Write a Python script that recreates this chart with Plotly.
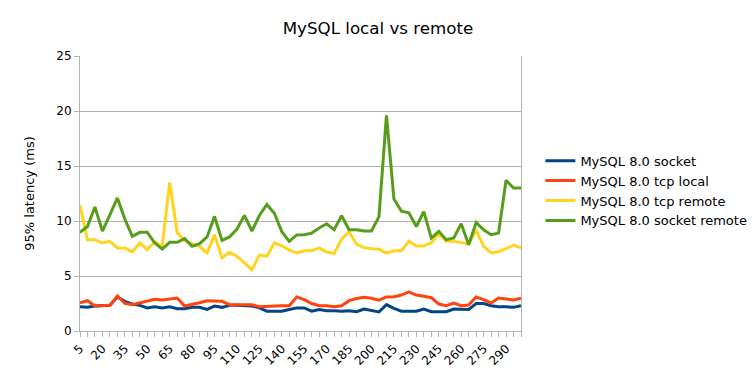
import plotly.graph_objects as go

categories = [5, 10, 15, 20, 25, 30, 35, 40, 45, 50, 55, 60, 65, 70, 75, 80, 85, 90, 95, 100,
              105, 110, 115, 120, 125, 130, 135, 140, 145, 150, 155, 160, 165, 170, 175, 180, 185, 190, 195, 200,
              205, 210, 215, 220, 225, 230, 235, 240, 245, 250, 255, 260, 265, 270, 275, 280, 285, 290, 295, 300]

socket = [2.21, 2.15, 2.27, 2.27, 2.33, 3.1, 2.7, 2.45, 2.33, 2.1, 2.2, 2.1, 2.2, 2.03, 2.03, 2.15, 2.15, 1.97, 2.27, 2.15,
          2.33, 2.33, 2.27, 2.27, 2.1, 1.8, 1.8, 1.8, 1.95, 2.1, 2.1, 1.8, 1.95, 1.85, 1.85, 1.8, 1.85, 1.75, 2.0, 1.85,
          1.73, 2.4, 2.05, 1.8, 1.8, 1.8, 2.0, 1.75, 1.75, 1.75, 2.0, 1.95, 1.95, 2.5, 2.5, 2.3, 2.2, 2.2, 2.15, 2.3]

tcp_local = [2.57, 2.75, 2.27, 2.27, 2.33, 3.18, 2.51, 2.39, 2.57, 2.75, 2.88, 2.82, 2.94, 3.0, 2.27, 2.39, 2.57, 2.75, 2.75, 2.7,
             2.39, 2.39, 2.45, 2.39, 2.2, 2.25, 2.3, 2.3, 2.3, 3.1, 2.85, 2.5, 2.3, 2.3, 2.2, 2.3, 2.76, 2.95, 3.06, 2.97,
             2.8, 3.1, 3.12, 3.27, 3.55, 3.27, 3.15, 3.03, 2.45, 2.3, 2.54, 2.3, 2.36, 3.09, 2.85, 2.55, 3.0, 2.9, 2.82, 2.97]

tcp_remote = [11.45, 8.3, 8.3, 8.0, 8.15, 7.55, 7.55, 7.2, 8.0, 7.4, 8.1, 7.7, 13.5, 8.95, 8.2, 7.95, 7.7, 7.1, 8.75, 6.65,
              7.15, 6.8, 6.2, 5.57, 6.9, 6.8, 8.0, 7.75, 7.35, 7.1, 7.3, 7.3, 7.55, 7.18, 7.05, 8.33, 9.02, 7.87, 7.58, 7.47,
              7.45, 7.09, 7.3, 7.3, 8.15, 7.72, 7.72, 8.03, 8.8, 8.17, 8.17, 8.03, 7.9, 9.17, 7.7, 7.1, 7.2, 7.48, 7.8, 7.55]

socket_remote = [8.96, 9.5, 11.27, 9.08, 10.55, 12.1, 10.18, 8.6, 8.97, 8.97, 8.0, 7.45, 8.06, 8.06, 8.4, 7.7, 7.94, 8.55, 10.42, 8.24,
                 8.55, 9.27, 10.5, 9.09, 10.5, 11.5, 10.7, 9.03, 8.15, 8.73, 8.75, 8.9, 9.36, 9.75, 9.2, 10.48, 9.2, 9.2, 9.1, 9.1,
                 10.4, 19.6, 12.0, 10.9, 10.75, 9.5, 10.85, 8.45, 9.06, 8.3, 8.45, 9.75, 7.85, 9.87, 9.2, 8.75, 8.9, 13.7, 13.0, 13.0]

tick_labels = [str(c) if i % 3 == 0 else "" for i, c in enumerate(categories)]
y_ticks = [0, 5, 10, 15, 20, 25]

series = [
    ("MySQL 8.0 socket", socket, "#004586"),
    ("MySQL 8.0 tcp local", tcp_local, "#ff420e"),
    ("MySQL 8.0 tcp remote", tcp_remote, "#ffd320"),
    ("MySQL 8.0 socket remote", socket_remote, "#579d1c"),
]

fig = go.Figure()
for name, vals, color in series:
    fig.add_trace(go.Scatter(x=categories, y=vals, name=name, mode="lines",
                             line=dict(color=color, width=3), cliponaxis=False))

FONT = "DejaVu Sans"
fig.update_layout(
    width=756, height=378,
    margin=dict(l=72, r=239, t=48, b=55),
    paper_bgcolor="white", plot_bgcolor="white",
    font=dict(family=FONT, size=12, color="#000000"),
    title=dict(text="MySQL local vs remote", x=370 / 756, xref="container", xanchor="center",
               y=1 - 20 / 378, yref="container", yanchor="middle",
               font=dict(family=FONT, size=16.7, color="#000000")),
    legend=dict(x=1.044, xanchor="left", y=0.51, yanchor="middle",
                font=dict(family=FONT, size=13, color="#000000"),
                bgcolor="rgba(0,0,0,0)", itemwidth=30, tracegroupgap=0),
    showlegend=True,
)
fig.update_xaxes(
    type="linear", range=[categories[0], categories[-1]],
    tickmode="array", tickvals=categories, ticktext=tick_labels,
    tickangle=-45, ticks="outside", ticklen=5, tickcolor="#b3b3b3",
    showgrid=False, zeroline=False, automargin=False,
    showline=True, linecolor="#b3b3b3", linewidth=1,
    tickfont=dict(family=FONT, size=12, color="#000000"),
)
fig.update_yaxes(
    range=[0, 25], tickmode="array", tickvals=y_ticks,
    ticks="outside", ticklen=5, tickcolor="#b3b3b3",
    showgrid=True, gridcolor="#b3b3b3", gridwidth=1, zeroline=False,
    showline=True, linecolor="#b3b3b3", linewidth=1, mirror=True, automargin=False,
    tickfont=dict(family=FONT, size=12, color="#000000"),
    title=dict(text="95% latency (ms)", standoff=18,
               font=dict(family=FONT, size=13, color="#000000")),
)

fig.write_html("out.html")
